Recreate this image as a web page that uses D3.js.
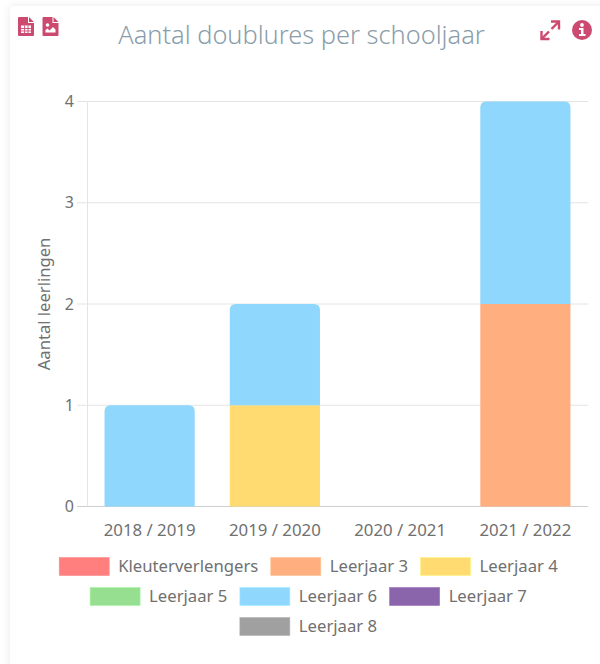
<!DOCTYPE html>
<html><head><meta charset="utf-8">
<script src="https://cdn.jsdelivr.net/npm/d3@7/dist/d3.min.js"></script>
<style>
html,body{margin:0;padding:0;background:#fff;overflow:hidden}
svg{display:block}
text{font-family:"Noto Sans","Open Sans",sans-serif}
</style></head><body>
<svg id="c" width="600" height="664"></svg>
<script>
const years=["2018 / 2019","2019 / 2020","2020 / 2021","2021 / 2022"];
const seriesNames=["Kleuterverlengers","Leerjaar 3","Leerjaar 4","Leerjaar 5","Leerjaar 6","Leerjaar 7","Leerjaar 8"];
const seriesColors=["#ff7f7f","#ffae80","#ffdb72","#96de90","#8fd7fd","#8b65ab","#a0a0a0"];
const kleuterverlengers=[0,0,0,0];
const leerjaar3=[0,0,0,2];
const leerjaar4=[0,1,0,0];
const leerjaar5=[0,0,0,0];
const leerjaar6=[1,1,0,2];
const leerjaar7=[0,0,0,0];
const leerjaar8=[0,0,0,0];
const yTicks=[0,1,2,3,4];
const legendRows=[[0,1,2],[3,4,5],[6]];
const allSeries=[kleuterverlengers,leerjaar3,leerjaar4,leerjaar5,leerjaar6,leerjaar7,leerjaar8];

const svg=d3.select("#c");
const defs=svg.append("defs");
const f=defs.append("filter").attr("id","sh").attr("x","-5%").attr("y","-5%").attr("width","110%").attr("height","110%");
f.append("feDropShadow").attr("dx",0).attr("dy",0).attr("stdDeviation",4).attr("flood-color","#000").attr("flood-opacity",0.09);
svg.append("rect").attr("x",10).attr("y",6).attr("width",700).attr("height",720).attr("rx",5).attr("fill","#fff").attr("filter","url(#sh)");

svg.append("text").attr("x",301.5).attr("y",44).attr("text-anchor","middle")
  .attr("font-size",25.4).attr("font-weight",300).attr("fill","#8a9dab").text("Aantal doublures per schooljaar");

const pink="#cc4a70";
function fileIcon(x,kind){
  const g=svg.append("g").attr("transform",`translate(${x},17)`).attr("fill",pink);
  g.append("path").attr("d","M1,0H10V6H16V18Q16,19 15,19H1Q0,19 0,18V1Q0,0 1,0ZM11,0L16,5H11Z");
  if(kind==="table"){
    g.append("rect").attr("x",3).attr("y",8.5).attr("width",10).attr("height",7.5).attr("fill","#fff");
    [11,13.5].forEach(y=>g.append("rect").attr("x",3).attr("y",y).attr("width",10).attr("height",.9));
    [6.2,9.6].forEach(x=>g.append("rect").attr("x",x).attr("y",8.5).attr("width",.9).attr("height",7.5));
  } else {
    g.append("circle").attr("cx",5).attr("cy",8).attr("r",1.8).attr("fill","#fff");
    g.append("path").attr("fill","#fff").attr("d","M3,15.5V13L5,11.5L7,13.5L10.5,10L13,12.5V15.5Z");
  }
}
fileIcon(18,"table");fileIcon(42.5,"image");
// expand icon: two arrows with a gap in the middle
const ex=svg.append("g").attr("stroke",pink).attr("stroke-width",2.4).attr("fill","none");
ex.append("path").attr("d","M551.5,29L559,21.5");
ex.append("path").attr("d","M551,21.5H559V29.5");
ex.append("path").attr("d","M541.5,39L549,31.5");
ex.append("path").attr("d","M541.5,31V39H549.5");
svg.append("circle").attr("cx",582).attr("cy",30).attr("r",10).attr("fill",pink);
svg.append("circle").attr("cx",582).attr("cy",25).attr("r",1.9).attr("fill","#fff");
svg.append("path").attr("fill","#fff").attr("d","M579,28H583.5V34H585.5V36H579V34H581V30H579Z");

const y=d3.scaleLinear().domain([0,4]).range([506.5,101.5]);
const x=d3.scaleBand().domain(years).range([87,588]).paddingInner(0.28).paddingOuter(0.14);

svg.append("g").selectAll("line").data(yTicks).join("line")
  .attr("x1",77).attr("x2",588).attr("y1",d=>y(d)).attr("y2",d=>y(d))
  .attr("stroke",d=>d===0?"#cfcfcf":"#e4e4e4");
svg.append("line").attr("x1",87.5).attr("x2",87.5).attr("y1",101).attr("y2",506).attr("stroke","#e4e4e4");

svg.append("g").selectAll("text").data(yTicks).join("text")
  .attr("x",74).attr("y",d=>y(d)+5.5).attr("text-anchor","end").attr("font-size",16).attr("fill","#707070").text(d=>d);

svg.append("text").attr("transform","translate(50,304) rotate(-90)").attr("text-anchor","middle")
  .attr("font-size",16.6).attr("fill","#707070").text("Aantal leerlingen");

svg.append("g").selectAll("text").data(years).join("text")
  .attr("x",d=>x(d)+x.bandwidth()/2).attr("y",536).attr("text-anchor","middle")
  .attr("font-size",16.8).attr("fill","#707070").text(d=>d);

const rows=years.map((yr,i)=>{const o={year:yr};seriesNames.forEach((n,k)=>o[n]=allSeries[k][i]);return o;});
const stacked=d3.stack().keys(seriesNames)(rows);
const topIdx=rows.map(r=>{let t=-1;seriesNames.forEach((n,k)=>{if(r[n]>0)t=k;});return t;});
stacked.forEach((s,k)=>{
  svg.append("g").selectAll("path").data(s.filter(d=>d[1]>d[0])).join("path")
    .attr("fill",seriesColors[k])
    .attr("d",d=>{
      const i=rows.indexOf(d.data);
      const x0=x(years[i]),w=x.bandwidth(),y0=y(d[0]),y1=y(d[1]);
      const r=topIdx[i]===k?6:0;
      const p=d3.path();
      p.moveTo(x0,y0);p.lineTo(x0,y1+r);
      p.quadraticCurveTo(x0,y1,x0+r,y1);
      p.lineTo(x0+w-r,y1);
      p.quadraticCurveTo(x0+w,y1,x0+w,y1+r);
      p.lineTo(x0+w,y0);p.closePath();
      return p.toString();
    });
});

const boxW=50,boxH=18,gap=9,itemGap=12.5;
const meas=svg.append("text").attr("font-size",16.7).attr("visibility","hidden");
const tw=t=>{meas.text(t);return meas.node().getComputedTextLength();};
legendRows.forEach((row,ri)=>{
  const widths=row.map(k=>boxW+gap+tw(seriesNames[k]));
  const total=d3.sum(widths)+itemGap*(row.length-1);
  let cx=308.5-total/2;
  row.forEach((k,j)=>{
    const ty=557.5+ri*30;
    svg.append("rect").attr("x",cx).attr("y",ty).attr("width",boxW).attr("height",boxH)
      .attr("fill",seriesColors[k]).attr("stroke",d3.color(seriesColors[k]).brighter(.3)).attr("stroke-width",.6);
    svg.append("text").attr("x",cx+boxW+gap).attr("y",ty+14.5).attr("font-size",16.7).attr("fill","#707070").text(seriesNames[k]);
    cx+=widths[j]+itemGap;
  });
});
meas.remove();
</script></body></html>
